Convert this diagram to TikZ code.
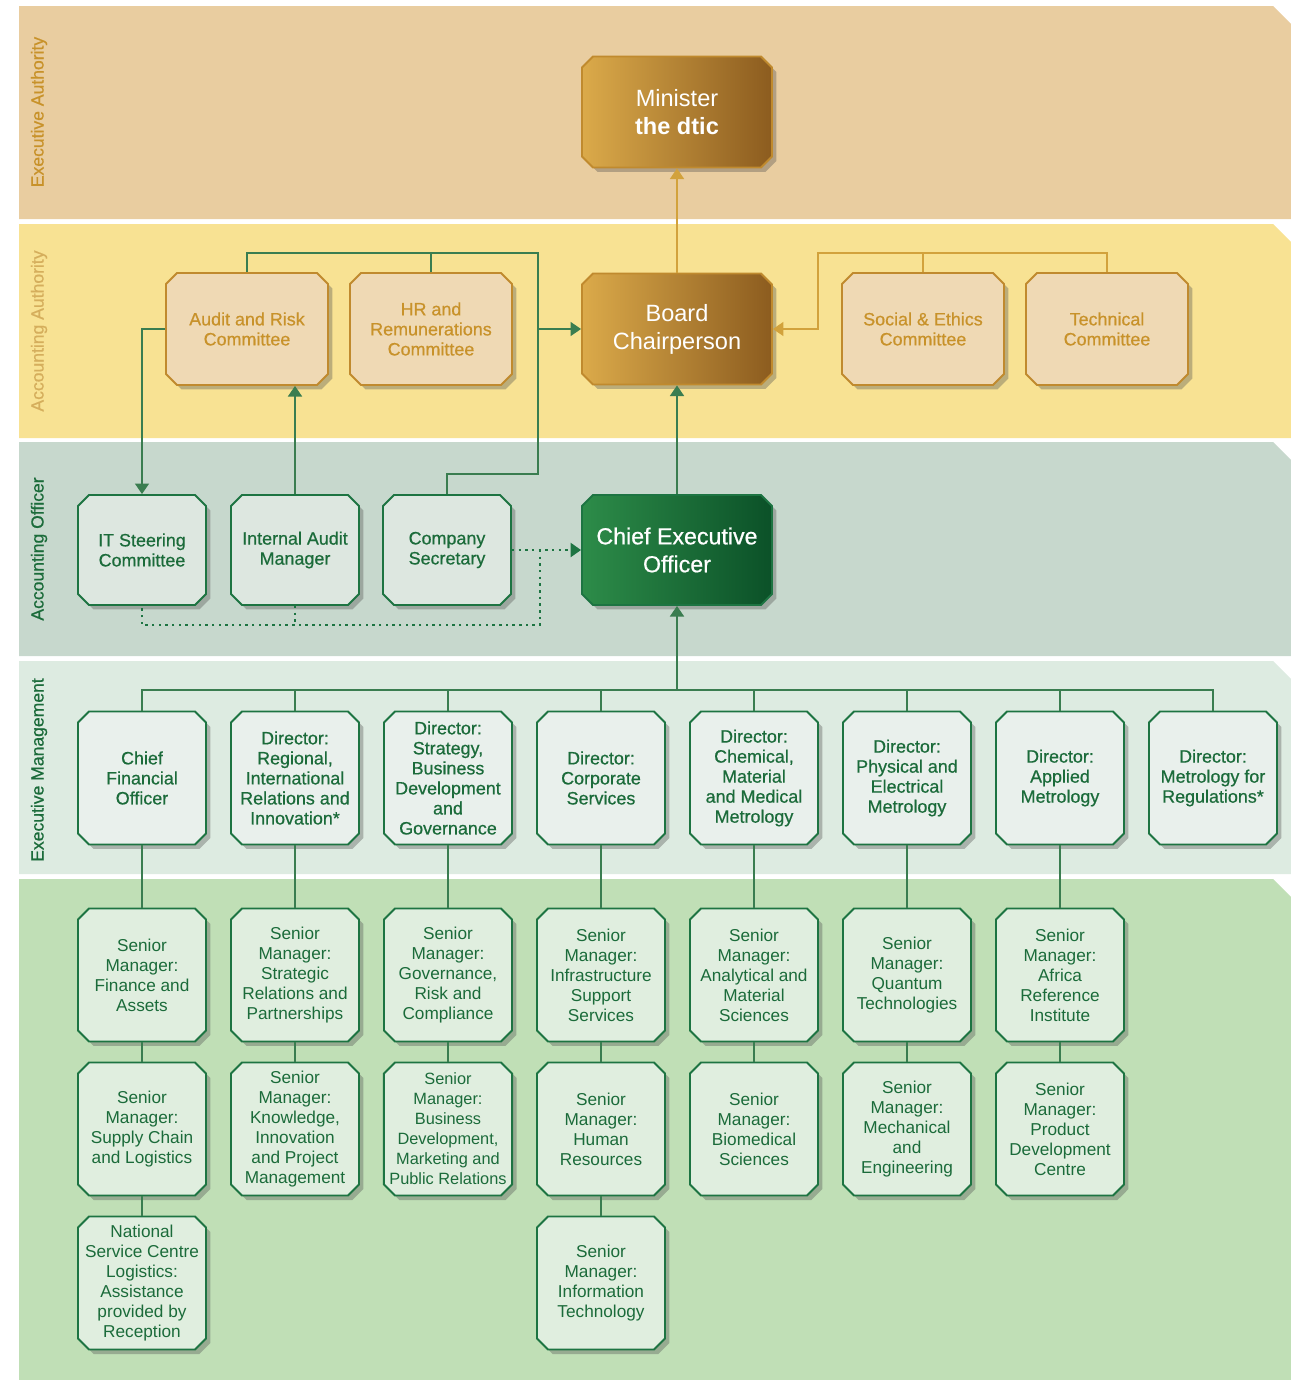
\documentclass[tikz,border=0pt]{standalone}
\usepackage{fontspec}
\setmainfont{Liberation Sans}
\newfontfamily\medfont[FakeBold=0.6]{Liberation Sans}
\usepackage{xcolor}
\usepackage{tikz}
\usetikzlibrary{arrows.meta, positioning, calc, shapes.misc, shadows}

\definecolor{bandEA}{HTML}{E9CDA0}
\definecolor{bandAA}{HTML}{F8E293}
\definecolor{bandAO}{HTML}{C7D8CD}
\definecolor{bandEM}{HTML}{DDEBE1}
\definecolor{bandSM}{HTML}{C0DFB6}
\definecolor{goldtext}{HTML}{C8922A}
\definecolor{goldpale}{HTML}{D5AE5C}
\definecolor{goldfill}{HTML}{EFD9B4}
\definecolor{goldedge}{HTML}{C08A2E}
\definecolor{golda}{HTML}{DBAA4A}
\definecolor{goldb}{HTML}{8C5C1F}
\definecolor{greenedge}{HTML}{1D7442}
\definecolor{greentext}{HTML}{1B6B3A}
\definecolor{greena}{HTML}{2D8C49}
\definecolor{greenb}{HTML}{0B5128}
\definecolor{connline}{HTML}{3A7D50}
\definecolor{goldline}{HTML}{D2A23C}
\definecolor{offfill}{HTML}{DDE7E0}
\definecolor{dirfill}{HTML}{E9F0EC}
\definecolor{smfill}{HTML}{E0EEDF}

\tikzset{
  box/.style={chamfered rectangle, chamfered rectangle xsep=0.11cm,
    chamfered rectangle ysep=0.11cm, inner sep=0pt, align=center, line width=1.1pt,
    drop shadow={shadow xshift=0.09cm, shadow yshift=-0.09cm, opacity=0.35, fill=black!70}},
  goldbig/.style={box, draw=goldedge, left color=golda, right color=goldb, text=white,
    minimum width=3.8cm, minimum height=2.22cm, font=\fontsize{13.4}{15.9}\selectfont},
  cmtbox/.style={box, draw=goldedge, fill=goldfill, text=goldtext,
    minimum width=3.24cm, minimum height=2.24cm, font=\medfont\fontsize{10.2}{11.4}\selectfont},
  offbox/.style={box, draw=greenedge, fill=offfill, text=greentext,
    minimum width=2.56cm, minimum height=2.2cm, font=\medfont\fontsize{10.2}{11.4}\selectfont},
  ceobox/.style={box, draw=greenedge, left color=greena, right color=greenb, text=white,
    minimum width=3.8cm, minimum height=2.2cm, font=\medfont\fontsize{13.2}{15.9}\selectfont},
  dirbox/.style={box, draw=greenedge, fill=dirfill, text=greentext,
    minimum width=2.56cm, minimum height=2.66cm, font=\medfont\fontsize{10.2}{11.4}\selectfont},
  smbox/.style={box, draw=greenedge, fill=smfill, text=greentext,
    minimum width=2.56cm, minimum height=2.66cm, font=\fontsize{9.8}{11.4}\selectfont},
  bandlabel/.style={rotate=90, font=\medfont\fontsize{10}{12}\selectfont},
  conn/.style={draw=connline, line width=0.8pt},
  goldconn/.style={draw=goldline, line width=0.8pt},
  dotconn/.style={draw=greenedge, line width=1.4pt, dash pattern=on 1.4pt off 2.4pt},
  arr/.style={-{Triangle[width=8pt,length=6pt]}}
}

\begin{document}
\begin{tikzpicture}[x=0.02cm, y=-0.02cm]
    \useasboundingbox (0,0) rectangle (1291,1380);

    % bands
    \fill[bandEA] (19,6) -- (1273,6) -- (1291,24) -- (1291,219) -- (19,219) -- cycle;
    \fill[bandAA] (19,224) -- (1273,224) -- (1291,242) -- (1291,438) -- (19,438) -- cycle;
    \fill[bandAO] (19,442) -- (1273,442) -- (1291,460) -- (1291,656) -- (19,656) -- cycle;
    \fill[bandEM] (19,661) -- (1273,661) -- (1291,679) -- (1291,874) -- (19,874) -- cycle;
    \fill[bandSM] (19,879) -- (1273,879) -- (1291,897) -- (1291,1380) -- (19,1380) -- cycle;

    \node[bandlabel, text=goldtext] (lblEA) at (39,112) {Executive Authority};
    \node[bandlabel, text=goldpale] (lblAA) at (39,331) {Accounting Authority};
    \node[bandlabel, text=greentext] (lblAO) at (39,549) {Accounting Officer};
    \node[bandlabel, text=greentext] (lblEM) at (39,770) {Executive Management};

    % executive / accounting authority
    \node[goldbig] (minister) at (677,112) {Minister\\\textbf{the dtic}};
    \node[goldbig] (board) at (677,329) {Board\\Chairperson};
    \node[cmtbox] (audit) at (247,329) {Audit and Risk\\Committee};
    \node[cmtbox] (hr) at (431,329) {HR and\\Remunerations\\Committee};
    \node[cmtbox] (social) at (923,329) {Social \& Ethics\\Committee};
    \node[cmtbox] (tech) at (1107,329) {Technical\\Committee};

    % accounting officer
    \node[offbox] (itsteer) at (142,550) {IT Steering\\Committee};
    \node[offbox] (intaudit) at (295,550) {Internal Audit\\Manager};
    \node[offbox] (cosec) at (447,550) {Company\\Secretary};
    \node[ceobox] (ceo) at (677,550) {Chief Executive\\Officer};

    % executive management
    \node[dirbox] (d1) at (142,778) {Chief\\Financial\\Officer};
    \node[dirbox] (d2) at (295,778) {Director:\\Regional,\\International\\Relations and\\Innovation*};
    \node[dirbox] (d3) at (448,778) {Director:\\Strategy,\\Business\\Development\\and\\Governance};
    \node[dirbox] (d4) at (601,778) {Director:\\Corporate\\Services};
    \node[dirbox] (d5) at (754,778) {Director:\\Chemical,\\Material\\and Medical\\Metrology};
    \node[dirbox] (d6) at (907,778) {Director:\\Physical and\\Electrical\\Metrology};
    \node[dirbox] (d7) at (1060,778) {Director:\\Applied\\Metrology};
    \node[dirbox] (d8) at (1213,778) {Director:\\Metrology for\\Regulations*};

    % senior managers
    \node[smbox] (s11) at (142,975) {Senior\\Manager:\\Finance and\\Assets};
    \node[smbox] (s12) at (142,1129) {Senior\\Manager:\\Supply Chain\\and Logistics};
    \node[smbox] (s13) at (142,1283) {National\\Service Centre\\Logistics:\\Assistance\\provided by\\Reception};
    \node[smbox] (s21) at (295,975) {Senior\\Manager:\\Strategic\\Relations and\\Partnerships};
    \node[smbox] (s22) at (295,1129) {Senior\\Manager:\\Knowledge,\\Innovation\\and Project\\Management};
    \node[smbox] (s31) at (448,975) {Senior\\Manager:\\Governance,\\Risk and\\Compliance};
    \node[smbox, font=\fontsize{9.3}{11.4}\selectfont] (s32) at (448,1129) {Senior\\Manager:\\Business\\Development,\\Marketing and\\Public Relations};
    \node[smbox] (s41) at (601,975) {Senior\\Manager:\\Infrastructure\\Support\\Services};
    \node[smbox] (s42) at (601,1129) {Senior\\Manager:\\Human\\Resources};
    \node[smbox] (s43) at (601,1283) {Senior\\Manager:\\Information\\Technology};
    \node[smbox] (s51) at (754,975) {Senior\\Manager:\\Analytical and\\Material\\Sciences};
    \node[smbox] (s52) at (754,1129) {Senior\\Manager:\\Biomedical\\Sciences};
    \node[smbox] (s61) at (907,975) {Senior\\Manager:\\Quantum\\Technologies};
    \node[smbox] (s62) at (907,1129) {Senior\\Manager:\\Mechanical\\and\\Engineering};
    \node[smbox] (s71) at (1060,975) {Senior\\Manager:\\Africa\\Reference\\Institute};
    \node[smbox] (s72) at (1060,1129) {Senior\\Manager:\\Product\\Development\\Centre};

    % connectors: authority
    \coordinate (accbus) at (538,253);
    \coordinate (accdrop) at (538,474);
    \coordinate (cmtbus) at (818,253);
    \draw[goldconn, arr] (board.north) -- (minister.south);
    \draw[conn, arr] (ceo.north) -- (board.south);
    \draw[conn] (audit.north) |- (accbus) -- (accdrop) -| (cosec.north);
    \draw[conn] (hr.north) -- (hr.north |- accbus);
    \draw[conn, arr] (accbus |- board.west) -- (board.west);
    \draw[conn, arr] (audit.west) -| (itsteer.north);
    \draw[conn, arr] (intaudit.north) -- (intaudit.north |- audit.south);
    \draw[goldconn, arr] (tech.north) |- (cmtbus) |- (board.east);
    \draw[goldconn] (social.north) -- (social.north |- cmtbus);

    % dotted reporting lines
    \coordinate (dotbus) at (540,625);
    \draw[dotconn, arr] (cosec.east) -- (ceo.west);
    \draw[dotconn] (cosec.east -| dotbus) -- (dotbus) -| (itsteer.south);
    \draw[dotconn] (intaudit.south) -- (intaudit.south |- dotbus);

    % connectors: management
    \coordinate (dirbus) at (677,690);
    \draw[conn, arr] (dirbus) -- (ceo.south);
    \draw[conn] (d1.north) |- (dirbus) -| (d8.north);
    \foreach \d in {d2,d3,d4,d5,d6,d7}
        \draw[conn] (\d.north) -- (\d.north |- dirbus);

    \draw[conn] (d1.south) -- (s11.north);
    \draw[conn] (s11.south) -- (s12.north);
    \draw[conn] (s12.south) -- (s13.north);
    \draw[conn] (d2.south) -- (s21.north);
    \draw[conn] (s21.south) -- (s22.north);
    \draw[conn] (d3.south) -- (s31.north);
    \draw[conn] (s31.south) -- (s32.north);
    \draw[conn] (d4.south) -- (s41.north);
    \draw[conn] (s41.south) -- (s42.north);
    \draw[conn] (s42.south) -- (s43.north);
    \draw[conn] (d5.south) -- (s51.north);
    \draw[conn] (s51.south) -- (s52.north);
    \draw[conn] (d6.south) -- (s61.north);
    \draw[conn] (s61.south) -- (s62.north);
    \draw[conn] (d7.south) -- (s71.north);
    \draw[conn] (s71.south) -- (s72.north);
\end{tikzpicture}
\end{document}
